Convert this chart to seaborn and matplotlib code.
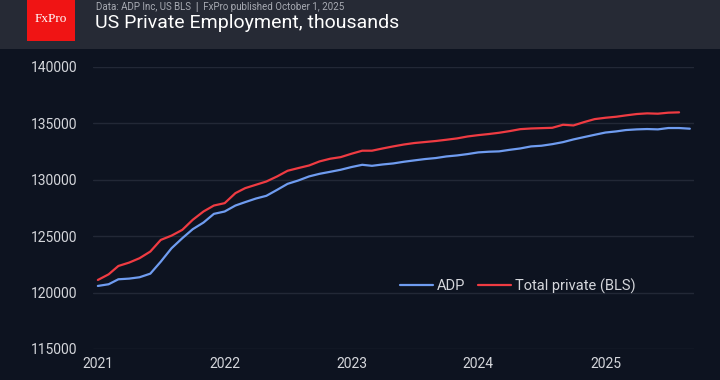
import numpy as np
import pandas as pd
import matplotlib
matplotlib.use("Agg")
import matplotlib.pyplot as plt
from matplotlib.patches import Rectangle
import seaborn as sns

# ---- data (thousands) ----
months = pd.date_range("2021-01-01", "2025-09-01", freq="MS")
adp = [120590, 120740, 121180, 121240, 121360, 121680, 122740, 123930, 124820, 125620,
       126210, 126980, 127190, 127720, 128020, 128340, 128580, 129110, 129640, 129940,
       130300, 130530, 130710, 130890, 131130, 131330, 131240, 131360, 131450, 131600,
       131720, 131840, 131930, 132070, 132160, 132280, 132430, 132490, 132520, 132660,
       132780, 132960, 133020, 133160, 133340, 133580, 133790, 133990, 134190, 134290,
       134410, 134470, 134500, 134470, 134590, 134590, 134530]
bls = [121120, 121620, 122360, 122660, 123050, 123640, 124670, 125050, 125560, 126450,
       127190, 127720, 127930, 128820, 129260, 129560, 129850, 130300, 130800, 131040,
       131270, 131630, 131870, 132010, 132310, 132580, 132580, 132780, 132960, 133130,
       133260, 133350, 133440, 133550, 133670, 133840, 133960, 134060, 134170, 134320,
       134490, 134550, 134580, 134610, 134880, 134820, 135120, 135380, 135500, 135590,
       135710, 135830, 135890, 135860, 135950, 135980]
series_names = ["ADP", "Total private (BLS)"]
yticks = [115000, 120000, 125000, 130000, 135000, 140000]
years = [2021, 2022, 2023, 2024, 2025]

df = pd.concat([
    pd.DataFrame({"date": months, "value": adp, "series": series_names[0]}),
    pd.DataFrame({"date": months[:len(bls)], "value": bls, "series": series_names[1]}),
])

# ---- style ----
BG = "#0d1320"
HEADER = "#262a35"
TXT = "#d4d6db"
GRID = "#222836"
colors = {"ADP": "#6f9cf0", "Total private (BLS)": "#ef3b42"}

sns.set_theme(style="dark")
plt.rcParams["font.family"] = ["Roboto", "DejaVu Sans"]

fig = plt.figure(figsize=(7.2, 3.8), dpi=100, facecolor=BG)
ax = fig.add_axes([93 / 720, 1 - 349 / 380, (694 - 93) / 720, (349 - 67) / 380])
ax.set_facecolor(BG)

sns.lineplot(data=df, x="date", y="value", hue="series", palette=colors,
             linewidth=1.6, ax=ax, legend=True)

ax.set_ylim(115000, 140000)
ax.set_yticks(yticks)
ax.set_yticklabels([str(v) for v in yticks])
x0 = pd.Timestamp("2021-01-01") - pd.Timedelta(days=14)
x1 = pd.Timestamp("2025-09-01") + pd.Timedelta(days=12)
ax.set_xlim(x0, x1)
ax.set_xticks([pd.Timestamp(f"{y}-01-01") for y in years])
ax.set_xticklabels([str(y) for y in years])

ax.grid(axis="y", color=GRID, linewidth=1.0)
ax.grid(axis="x", visible=False)
for s in ax.spines.values():
    s.set_visible(False)
ax.tick_params(axis="both", colors=TXT, labelsize=10, length=0)
ax.tick_params(axis="y", pad=11)
ax.tick_params(axis="x", pad=6)
ax.set_xlabel("")
ax.set_ylabel("")
for line in ax.get_lines():
    line.set_clip_on(False)

leg = ax.legend(loc="center", bbox_to_anchor=((518 - 93) / 601, (349 - 286) / 282),
                ncol=2, frameon=False, fontsize=10.5, handlelength=2.2,
                handletextpad=0.3, columnspacing=0.9, labelcolor=TXT)
for h in leg.get_lines():
    h.set_linewidth(1.6)

# ---- header ----
fig.add_artist(Rectangle((0, 1 - 49 / 380), 1, 49 / 380, transform=fig.transFigure,
                         facecolor=HEADER, edgecolor="none", zorder=0))
fig.add_artist(Rectangle((27 / 720, 1 - 41 / 380), 48 / 720, 41 / 380,
                         transform=fig.transFigure, facecolor="#f01414",
                         edgecolor="none", zorder=1))
fig.text(51 / 720, 1 - 19 / 380, "FxPro", color="white", fontsize=9.5,
         family=["Liberation Serif", "DejaVu Serif"], ha="center", va="center")
fig.text(96 / 720, 1 - 6.5 / 380, "Data: ADP Inc, US BLS  \u01c0  FxPro published October 1, 2025",
         color="#a8abb3", fontsize=7.0, ha="left", va="center")
fig.text(95 / 720, 1 - 23 / 380, "US Private Employment, thousands",
         color="white", fontsize=14, ha="left", va="center")

fig.savefig("out.png", dpi=100, facecolor=BG)
